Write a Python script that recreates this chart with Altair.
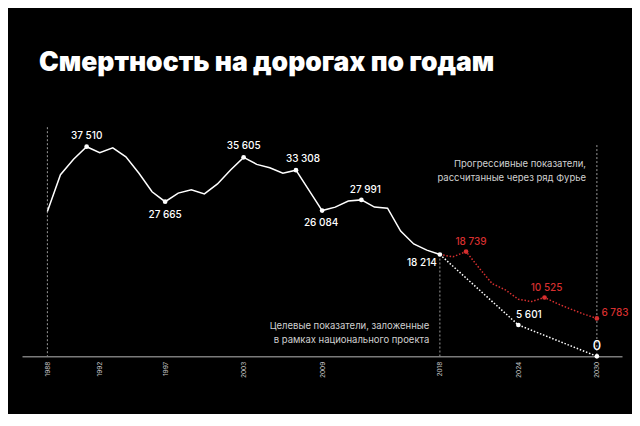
import altair as alt
import pandas as pd

TITLE = "Смертность на дорогах по годам"

# --- data -----------------------------------------------------------------
hist_years = list(range(1988, 2019))
hist_deaths = [25900, 32500, 35250, 37510, 36430, 37300, 35700, 32750, 29450, 27665,
               29200, 29800, 29050, 30850, 33350, 35605, 34350, 33750, 32750, 33308,
               29700, 26084, 26700, 27800, 27991, 26700, 26500, 22400, 20100, 19000,
               18214]

fourier_years = list(range(2018, 2031))
fourier_deaths = [18214, 17800, 18739, 15800, 13000, 11900, 10200, 9800, 10525,
                  9400, 8450, 7550, 6783]

target_years = [2018, 2024, 2030]
target_deaths = [18214, 5601, 0]

tick_years = [1988, 1992, 1997, 2003, 2009, 2018, 2024, 2030]

marked_hist_years = [1991, 1997, 2003, 2007, 2009, 2012, 2018]
marked_target_years = [2024, 2030]
marked_fourier_years = [2020, 2026, 2030]

guide_years = [1988, 2018, 2030]
guide_tops = [41000, 18214, 37800]

note_fourier = "Прогрессивные показатели,\nрассчитанные через ряд Фурье"
note_fourier_at = (2029.17, 34360)
note_target = "Целевые показатели, заложенные\nв рамках национального проекта"
note_target_at = (2017.19, 5370)

# --- styles ------------------------------------------------------------------
WHITE = "#ffffff"
RED = "#d62f2f"
FONT = "Inter"

hist = pd.DataFrame({"year": hist_years, "deaths": hist_deaths})
fourier = pd.DataFrame({"year": fourier_years, "deaths": fourier_deaths})
target = pd.DataFrame({"year": target_years, "deaths": target_deaths})
guides = pd.DataFrame({"year": guide_years, "top": guide_tops, "bottom": [0] * len(guide_years)})


def fmt(v):
    return f"{v:,}".replace(",", " ")


x_scale = alt.Scale(domain=[1986.06, 2031.92], nice=False, zero=False)
y_scale = alt.Scale(domain=[0, 44077], nice=False, zero=True)
x_axis = alt.Axis(values=tick_years, format="d", labelAngle=270, labelAlign="right",
                  labelBaseline="middle", labelFontSize=6.5, labelColor="#c4c4c4",
                  labelFont=FONT, labelPadding=5, ticks=False, grid=False,
                  domain=True, domainColor="#7a7a7a", domainWidth=1.5, title=None,
                  labelFlush=False, labelOverlap=False)

X = alt.X("year:Q", scale=x_scale, axis=x_axis)
Y = alt.Y("deaths:Q", scale=y_scale, axis=None)

rules = alt.Chart(guides).mark_rule(color="#9a9a9a", strokeWidth=1, strokeDash=[2, 2]).encode(
    x=X, y=alt.Y("top:Q", scale=y_scale, axis=None), y2="bottom:Q")

hist_line = alt.Chart(hist).mark_line(color=WHITE, strokeWidth=1.5).encode(x=X, y=Y)
fourier_line = alt.Chart(fourier).mark_line(color=RED, strokeWidth=1.5, strokeDash=[1.5, 1.8]).encode(x=X, y=Y)
target_line = alt.Chart(target).mark_line(color=WHITE, strokeWidth=1.5, strokeDash=[1.5, 1.8]).encode(x=X, y=Y)

white_pts = pd.concat([hist[hist.year.isin(marked_hist_years)],
                       target[target.year.isin(marked_target_years)]])
red_pts = fourier[fourier.year.isin(marked_fourier_years)]

white_dots = alt.Chart(white_pts).mark_circle(color=WHITE, opacity=1, size=22).encode(x=X, y=Y)
red_dots = alt.Chart(red_pts).mark_circle(color=RED, opacity=1, size=22).encode(x=X, y=Y)

# label styling per marked point: (dx, dy, align, size)
label_style = {
    ("h", 1991): (0, -11, "center", 10),
    ("h", 1997): (0, 13, "center", 10),
    ("h", 2003): (0, -11, "center", 10),
    ("h", 2007): (7, -11, "center", 10),
    ("h", 2009): (-1, 12, "center", 10),
    ("h", 2012): (4, -10, "center", 10),
    ("h", 2018): (-3, 8, "right", 10),
    ("t", 2024): (10.5, -9.5, "center", 10),
    ("t", 2030): (0, -10, "center", 13),
    ("f", 2020): (5, -9.5, "center", 10),
    ("f", 2026): (2, -9.5, "center", 10),
    ("f", 2030): (4.5, -5, "left", 10),
}

layers = [rules, hist_line, fourier_line, target_line, white_dots, red_dots]

sources = {"h": hist, "t": target, "f": fourier}
for (src, yr), (dx, dy, align, size) in label_style.items():
    df = sources[src]
    row = df[df.year == yr].copy()
    row["label"] = row["deaths"].map(fmt)
    color = RED if src == "f" else WHITE
    layers.append(
        alt.Chart(row).mark_text(color=color, font=FONT, fontSize=size, fontWeight=500,
                                 dx=dx, dy=dy, align=align, baseline="middle")
        .encode(x=X, y=Y, text="label:N")
    )

notes = pd.DataFrame({
    "year": [note_fourier_at[0], note_target_at[0]],
    "deaths": [note_fourier_at[1], note_target_at[1]],
    "note": [note_fourier, note_target],
})
layers.append(
    alt.Chart(notes).mark_text(color="#d0d0d0", font=FONT, fontSize=9.5, align="right",
                               baseline="middle", lineBreak="\n", lineHeight=14)
    .encode(x=X, y=Y, text="note:N")
)

chart = (
    alt.layer(*layers)
    .properties(
        width=600,
        height=246.3,
        padding={"left": 14, "top": 102, "right": 10, "bottom": 58},
        autosize=alt.AutoSizeParams(type="none"),
        background="#000000",
        title=alt.TitleParams(TITLE, anchor="start", dx=17, offset=12, font=FONT,
                              fontSize=26.5, fontWeight=900, color=WHITE,
                              baseline="alphabetic"),
    )
    .configure_view(stroke=None)
)

chart.save("out.html", embed_options={"renderer": "svg", "actions": False})
